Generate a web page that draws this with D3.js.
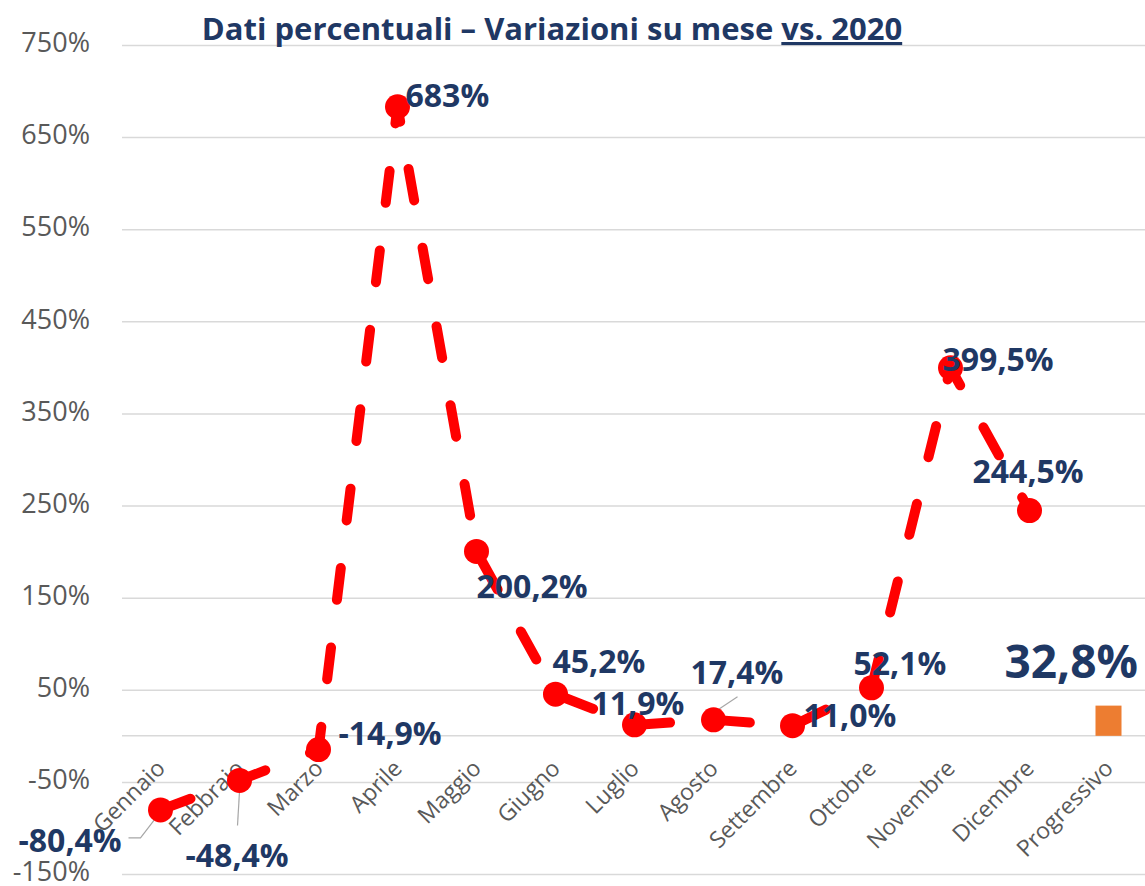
<!DOCTYPE html>
<html>
<head>
<meta charset="utf-8">
<script src="https://cdnjs.cloudflare.com/ajax/libs/d3/7.8.5/d3.min.js"></script>
<style>
  body { margin: 0; background: #fff; }
  svg { display: block; font-family: "Open Sans", sans-serif; }
  .grid line { stroke: #d9d9d9; stroke-width: 1.5; }
  .grid path { display: none; }
  .grid text { fill: #595959; font-size: 27px; font-family: "Open Sans", sans-serif; }
  .xlab { fill: #595959; font-size: 23px; }
  .lbl { fill: #1f3864; font-weight: bold; font-size: 32px; }
</style>
</head>
<body>
<svg id="chart"></svg>
<script>
// data
var months = ["Gennaio", "Febbraio", "Marzo", "Aprile", "Maggio", "Giugno", "Luglio",
              "Agosto", "Settembre", "Ottobre", "Novembre", "Dicembre"]
var monthValues = [-80.4, -48.4, -14.9, 683, 200.2, 45.2, 11.9, 17.4, 11.0, 52.1, 399.5, 244.5]
var monthLabels = ["-80,4%", "-48,4%", "-14,9%", "683%", "200,2%", "45,2%", "11,9%",
                   "17,4%", "11,0%", "52,1%", "399,5%", "244,5%"]
var totalCategory = "Progressivo"
var totalValue = 32.8
var totalLabel = "32,8%"
var yTicks = [-150, -50, 50, 150, 250, 350, 450, 550, 650, 750]

// label offsets from their point (layout only)
var labelOffsets = [[-142, 30], [-54, 74], [20, -17], [8, -12], [0, 34], [-3, -34], [-43, -22],
                    [-23, -48], [11, -11], [-18, -25], [-8, -9], [-57, -40]]

var width = 1145,
    height = 886,
    svg = d3.select("#chart").attr("width", width).attr("height", height)

var categories = months.concat([totalCategory])

var x = d3.scaleBand().domain(categories).range([121, 1148]),
    y = d3.scaleLinear().domain([-150, 750]).range([874, 45])

// gridlines + y labels
svg.append("g")
  .attr("class", "grid")
  .attr("transform", "translate(122,0)")
  .call(d3.axisLeft(y).tickValues(yTicks).tickSize(-(width - 122)).tickPadding(32)
          .tickFormat((d) => d + "%"))
  .call((g) => g.selectAll("text").attr("dy", "0.25em"))

// zero line
svg.append("line")
  .attr("x1", 122).attr("x2", width)
  .attr("y1", y(0)).attr("y2", y(0))
  .attr("stroke", "#d9d9d9").attr("stroke-width", 1.5)

// category labels
svg.append("g")
  .selectAll("text")
  .data(categories)
  .enter().append("text")
    .attr("class", "xlab")
    .attr("text-anchor", "end")
    .attr("transform", (d) => `translate(${x(d) + x.bandwidth() / 2 + 6},${y(0) + 34}) rotate(-45)`)
    .text((d) => d)

// progressive bar
var cx = (d) => x(d) + x.bandwidth() / 2
svg.append("rect")
  .attr("x", cx(totalCategory) - 13)
  .attr("width", 26)
  .attr("y", y(totalValue))
  .attr("height", y(0) - y(totalValue))
  .attr("fill", "#ed7d31")

// leader lines
var pts = months.map((m, i) => [cx(m), y(monthValues[i])])
var leaders = [
  [[pts[0][0], pts[0][1] + 2], [pts[0][0] - 20, pts[0][1] + 28], [pts[0][0] - 32, pts[0][1] + 28]],
  [[pts[1][0], pts[1][1] + 11], [pts[1][0] - 2, pts[1][1] + 45]],
  [[pts[7][0], pts[7][1] - 7], [pts[7][0] + 24, pts[7][1] - 23]]
]
svg.append("g")
  .selectAll("path")
  .data(leaders)
  .enter().append("path")
    .attr("d", d3.line())
    .attr("fill", "none")
    .attr("stroke", "#a6a6a6")
    .attr("stroke-width", 1.2)

// line
svg.append("path")
  .datum(pts)
  .attr("d", d3.line())
  .attr("fill", "none")
  .attr("stroke", "#ff0000")
  .attr("stroke-width", 10)
  .attr("stroke-linecap", "round")
  .attr("stroke-linejoin", "round")
  .attr("stroke-dasharray", "32,48")

svg.append("g")
  .selectAll("circle")
  .data(pts)
  .enter().append("circle")
    .attr("cx", (d) => d[0])
    .attr("cy", (d) => d[1])
    .attr("r", 12.5)
    .attr("fill", "#ff0000")

// data labels
svg.append("g")
  .selectAll("text")
  .data(monthLabels)
  .enter().append("text")
    .attr("class", "lbl")
    .attr("x", (d, i) => pts[i][0] + labelOffsets[i][0])
    .attr("y", (d, i) => pts[i][1] + labelOffsets[i][1])
    .attr("dominant-baseline", "central")
    .text((d) => d)

svg.append("text")
  .attr("class", "lbl")
  .style("font-size", "46px")
  .attr("x", cx(totalCategory) - 104)
  .attr("y", y(totalValue) - 46)
  .attr("dominant-baseline", "central")
  .text(totalLabel)

// title
var title = svg.append("text")
  .attr("x", 552)
  .attr("y", 40)
  .attr("text-anchor", "middle")
  .attr("fill", "#1f3864")
  .attr("font-weight", "bold")
  .attr("font-size", "31px")
title.append("tspan").text("Dati percentuali – Variazioni su mese ")
title.append("tspan").attr("text-decoration", "underline").text("vs. 2020")
</script>
</body>
</html>
